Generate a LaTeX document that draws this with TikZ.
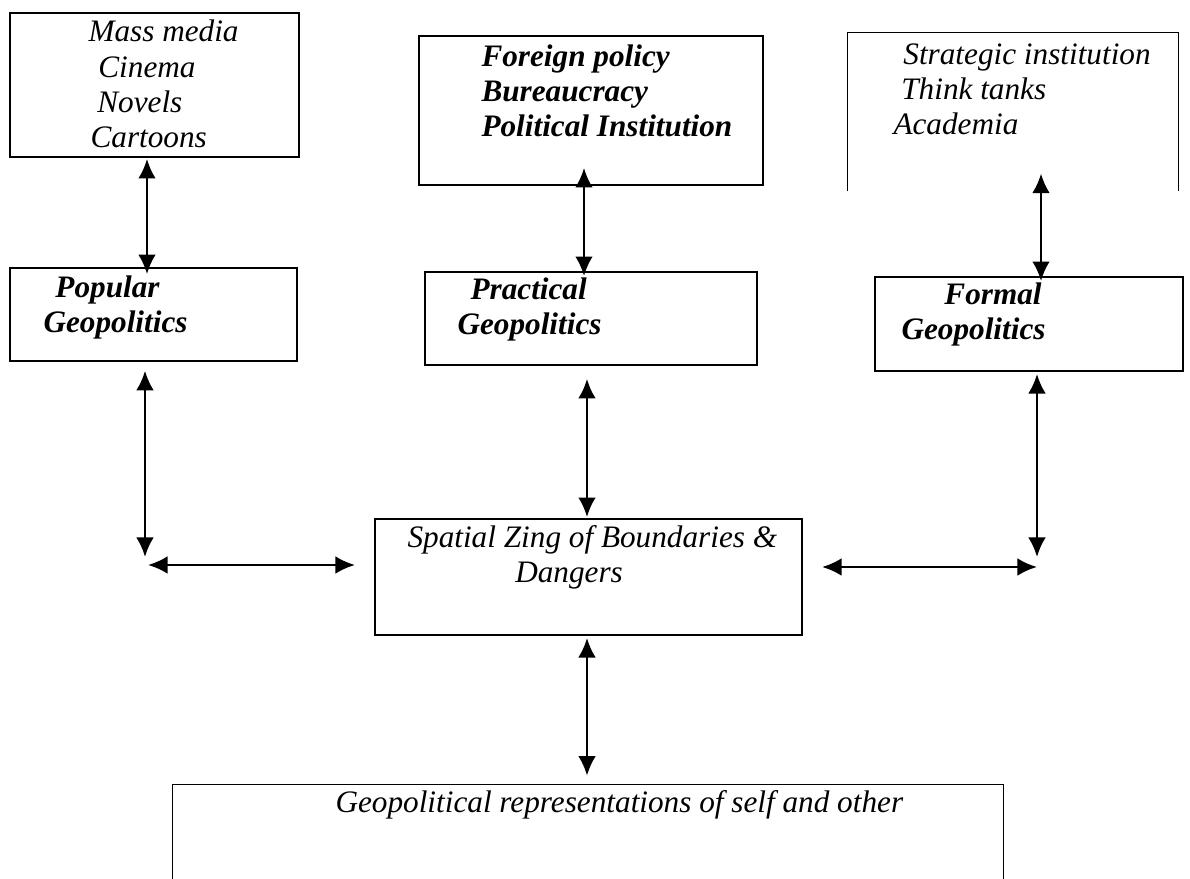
\documentclass[tikz,border=0pt]{standalone}
\usepackage{fontspec}
\setmainfont{Liberation Serif}
\usetikzlibrary{arrows.meta,fit}

\begin{document}
\begin{tikzpicture}
    [x=0.0135cm,y=-0.0135cm,>={Latex[length=7.5pt,width=6.8pt]},
     box/.style={draw,line width=0.7pt,inner sep=0pt},
     txt/.style={anchor=base west,align=left,inner sep=0pt,font=\itshape\fontsize{12}{13.6}\selectfont},
     btxt/.style={txt,font=\bfseries\itshape\fontsize{12}{13.6}\selectfont},
     link/.style={<->,line width=1pt}]

    \useasboundingbox (0,0) rectangle (1190,879);

    % columns of the arrows
    \coordinate (c1) at (147,0);
    \coordinate (c2) at (584,0);
    \coordinate (c3) at (1041,0);
    \coordinate (d1) at (145,0);
    \coordinate (d2) at (587,0);
    \coordinate (d3) at (1037,0);

    % top row
    \node[box,fit={(10,13) (299,157)}] (media) {};
    \node[box,fit={(419,36) (763,185)}] (policy) {};
    \node[inner sep=0pt,fit={(848,33) (1178,190)}] (strategy) {};
    \draw[line width=0.7pt] (strategy.south west) |- (strategy.north east) -- (strategy.south east);

    % (base = last line)
    \node[txt] (mediatext) at (88,148) {Mass media\\\hspace*{3.8pt}Cinema\\\hspace*{3.4pt}Novels\\\hspace*{0.8pt}Cartoons};
    \node[btxt] (policytext) at (481,137) {Foreign policy\\Bureaucracy\\Political Institution};
    \node[txt] (strategytext) at (893,135) {\hspace*{3.8pt}Strategic institution\\\hspace*{3pt}Think tanks\\Academia};

    % middle row
    \node[box,fit={(10,268) (297,361)}] (popular) {};
    \node[box,fit={(425,272) (757,365)}] (practical) {};
    \node[box,fit={(875,277) (1183,371)}] (formal) {};

    \node[btxt] (populartext) at (43,333) {\hspace*{4.6pt}Popular\\Geopolitics};
    \node[btxt] (practicaltext) at (457,335) {\hspace*{5pt}Practical\\Geopolitics};
    \node[btxt] (formaltext) at (901,340) {\hspace*{16.5pt}Formal\\Geopolitics};

    % centre and bottom
    \node[box,fit={(375,519) (802,635)}] (spatial) {};
    \node[txt] (spatialtext) at (407,583) {Spatial Zing of Boundaries \&\\\hspace*{41.4pt}Dangers};

    \node[inner sep=0pt,fit={(173,785) (1003,879)}] (self) {};
    \draw[line width=0.7pt] (self.south west) |- (self.north east) -- (self.south east);
    \node[txt] (selftext) at (335,813) {Geopolitical representations of self and other};

    % free ends
    \coordinate (lv) at (145,557);
    \coordinate (rv) at (1037,557);
    \coordinate (lh1) at (148,565);
    \coordinate (lh2) at (355,565);
    \coordinate (rh1) at (822,567);
    \coordinate (rh2) at (1037,567);

    % arrows
    \draw[link] ([yshift=-0.4pt]media.south -| c1) -- ([yshift=-2.7pt]popular.north -| c1);
    \draw[link] ([yshift=6.9pt]policy.south -| c2) -- ([yshift=-1.9pt]practical.north -| c2);
    \draw[link] ([yshift=6.5pt]strategy.south -| c3) -- ([yshift=-1.9pt]formal.north -| c3);

    \draw[link] ([yshift=-3.4pt]popular.south -| d1) -- (lv);
    \draw[link] ([yshift=-5pt]practical.south -| d2) -- ([yshift=0.4pt]spatial.north -| d2);
    \draw[link] ([yshift=-0.8pt]formal.south -| d3) -- (rv);

    \draw[link] (lh1) -- (lh2);
    \draw[link] (rh1) -- (rh2);

    \draw[link] ([yshift=-0.8pt]spatial.south -| d2) -- ([yshift=3.4pt]self.north -| d2);

\end{tikzpicture}
\end{document}
